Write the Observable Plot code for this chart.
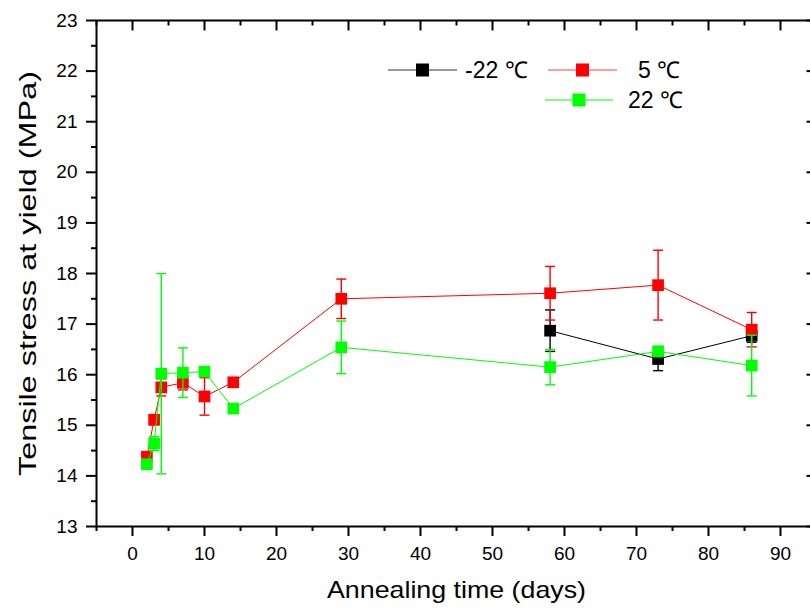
<!DOCTYPE html>
<html>
<head>
<meta charset="utf-8">
<script src="https://cdn.jsdelivr.net/npm/d3@7"></script>
<script src="https://cdn.jsdelivr.net/npm/@observablehq/plot@0.6"></script>
<style>
  body { margin: 0; background: #fff; font-family: "Liberation Sans", Arial, sans-serif; }
  #wrap { position: relative; width: 810px; height: 608px; overflow: hidden; background: #fff; }
  #legend { position: absolute; left: 0; top: 0; pointer-events: none; }
</style>
</head>
<body>
<div id="wrap"></div>
<script>
// ---- data ----
const seriesNames = ["-22 ℃", "5 ℃", "22 ℃"];
const seriesColors = ["#000000", "#ff0000", "#00ff00"];

const daysM22 = [58, 73, 86];
const stressM22 = [16.87, 16.31, 16.77];
const errM22 = [0.41, 0.23, 0.13];

const days5 = [2, 3, 4, 7, 10, 14, 29, 58, 73, 86];
const stress5 = [14.38, 15.11, 15.75, 15.84, 15.57, 15.85, 17.50, 17.61, 17.77, 16.89];
const err5 = [0.05, 0.10, 0.17, 0.14, 0.37, 0.05, 0.39, 0.53, 0.69, 0.34];

const days22 = [2, 3, 4, 7, 10, 14, 29, 58, 73, 86];
const stress22 = [14.23, 14.64, 16.02, 16.04, 16.06, 15.33, 16.54, 16.15, 16.46, 16.18];
const err22 = [0.07, 0.14, 1.98, 0.49, 0.05, 0.05, 0.52, 0.35, 0.10, 0.60];

const xTicks = [0, 10, 20, 30, 40, 50, 60, 70, 80, 90];
const xMinorTicks = [-5, 5, 15, 25, 35, 45, 55, 65, 75, 85, 95];
const yTicks = [13, 14, 15, 16, 17, 18, 19, 20, 21, 22, 23];
const yMinorTicks = [13.5, 14.5, 15.5, 16.5, 17.5, 18.5, 19.5, 20.5, 21.5, 22.5];

const xTitle = "Annealing time (days)";
const yTitle = "Tensile stress at yield (MPa)";

// ---- build tables ----
const seriesData = [
  {name: seriesNames[0], color: seriesColors[0], days: daysM22, v: stressM22, e: errM22},
  {name: seriesNames[1], color: seriesColors[1], days: days5, v: stress5, e: err5},
  {name: seriesNames[2], color: seriesColors[2], days: days22, v: stress22, e: err22}
].map(s => ({...s, rows: s.days.map((d, i) => ({day: d, v: s.v[i], e: s.e[i]}))}));

// small glyphs for error-bar caps and inward mirror ticks
const capSymbol = { draw(ctx) { ctx.moveTo(-5, 0); ctx.lineTo(5, 0); } };
const tickDown = len => ({ draw(ctx) { ctx.moveTo(0, 0); ctx.lineTo(0, len); } });
const tickLeft = len => ({ draw(ctx) { ctx.moveTo(0, 0); ctx.lineTo(-len, 0); } });

const font = "'Liberation Sans', Arial, sans-serif";
const marks = [];
for (const s of seriesData) {
  marks.push(
    Plot.ruleX(s.rows, {x: "day", y1: d => d.v - d.e, y2: d => d.v + d.e, stroke: s.color, strokeWidth: 1.4}),
    Plot.dot(s.rows, {x: "day", y: d => d.v + d.e, symbol: capSymbol, r: 5, fill: "none", stroke: s.color, strokeWidth: 1.4}),
    Plot.dot(s.rows, {x: "day", y: d => d.v - d.e, symbol: capSymbol, r: 5, fill: "none", stroke: s.color, strokeWidth: 1.4}),
    Plot.line(s.rows, {x: "day", y: "v", stroke: s.color, strokeWidth: 1}),
    Plot.dot(s.rows, {x: "day", y: "v", symbol: "square", r: 6.6, fill: s.color, stroke: "none"})
  );
}

const chart = Plot.plot({
  width: 810,
  height: 608,
  marginLeft: 96,
  marginRight: -6,
  marginTop: 20,
  marginBottom: 82,
  style: {fontFamily: font, background: "#fff", overflow: "visible"},
  x: {domain: [-5, 95]},
  y: {domain: [13, 23]},
  marks: [
    ...marks,
    // bottom axis
    Plot.axisX({anchor: "bottom", ticks: xTicks, tickSize: 10, tickPadding: 10, strokeWidth: 2, fontSize: 19, label: null, tickFormat: d => String(d), fill: "#000"}),
    Plot.axisX({anchor: "bottom", ticks: xMinorTicks, tickSize: 5, strokeWidth: 2, text: null, label: null}),
    // top mirror ticks (inward)
    Plot.dot(xTicks, {x: d => d, frameAnchor: "top", symbol: tickDown(10), r: 5, fill: "none", stroke: "#000", strokeWidth: 2}),
    Plot.dot(xMinorTicks, {x: d => d, frameAnchor: "top", symbol: tickDown(5), r: 5, fill: "none", stroke: "#000", strokeWidth: 2}),
    // left axis
    Plot.axisY({anchor: "left", ticks: yTicks, tickSize: 10, tickPadding: 9, strokeWidth: 2, fontSize: 19, label: null, tickFormat: d => String(d), fill: "#000"}),
    Plot.axisY({anchor: "left", ticks: yMinorTicks, tickSize: 5, strokeWidth: 2, text: null, label: null}),
    // right mirror ticks (inward)
    Plot.dot(yTicks, {y: d => d, frameAnchor: "right", symbol: tickLeft(10), r: 5, fill: "none", stroke: "#000", strokeWidth: 2}),
    Plot.dot(yMinorTicks, {y: d => d, frameAnchor: "right", symbol: tickLeft(5), r: 5, fill: "none", stroke: "#000", strokeWidth: 2}),
    Plot.frame({stroke: "#000", strokeWidth: 2}),
    // axis titles
    Plot.text([xTitle], {frameAnchor: "bottom", text: d => d, dy: 64, fontSize: 24, textAnchor: "middle", lineAnchor: "middle", fill: "#000"}),
    Plot.text([yTitle], {frameAnchor: "left", text: d => d, dx: -68, rotate: -90, fontSize: 24, textAnchor: "middle", lineAnchor: "middle", fill: "#000"})
  ]
});

// stretch the titles to the reference's lengths
chart.querySelectorAll("text").forEach(t => {
  if (t.textContent === xTitle) { t.setAttribute("textLength", 259); t.setAttribute("lengthAdjust", "spacingAndGlyphs"); }
  if (t.textContent === yTitle) { t.setAttribute("textLength", 405); t.setAttribute("lengthAdjust", "spacingAndGlyphs"); }
});

const wrap = document.getElementById("wrap");
wrap.appendChild(chart);

// ---- legend overlay ----
const legendItems = [
  {name: seriesNames[0], color: "#333", fill: seriesColors[0], x1: 388, x2: 457, y: 70, tx: 465},
  {name: seriesNames[1], color: "#ff4040", fill: seriesColors[1], x1: 548, x2: 617, y: 70, tx: 638},
  {name: seriesNames[2], color: seriesColors[2], fill: seriesColors[2], x1: 545, x2: 613, y: 100, tx: 628}
];
const ns = "http://www.w3.org/2000/svg";
const lg = document.createElementNS(ns, "svg");
lg.setAttribute("id", "legend");
lg.setAttribute("width", 810);
lg.setAttribute("height", 608);
for (const it of legendItems) {
  const ln = document.createElementNS(ns, "line");
  ln.setAttribute("x1", it.x1); ln.setAttribute("x2", it.x2);
  ln.setAttribute("y1", it.y); ln.setAttribute("y2", it.y);
  ln.setAttribute("stroke", it.color); ln.setAttribute("stroke-width", 1.2);
  lg.appendChild(ln);
  const cx = (it.x1 + it.x2) / 2;
  const r = document.createElementNS(ns, "rect");
  r.setAttribute("x", cx - 6.5); r.setAttribute("y", it.y - 6.5);
  r.setAttribute("width", 13); r.setAttribute("height", 13);
  r.setAttribute("fill", it.fill);
  lg.appendChild(r);
  const tx = document.createElementNS(ns, "text");
  tx.setAttribute("x", it.tx); tx.setAttribute("y", it.y);
  tx.setAttribute("dy", "0.36em");
  tx.setAttribute("font-size", 23);
  tx.setAttribute("font-family", font);
  tx.setAttribute("fill", "#000");
  tx.textContent = it.name;
  lg.appendChild(tx);
}
wrap.appendChild(lg);
</script>
</body>
</html>
